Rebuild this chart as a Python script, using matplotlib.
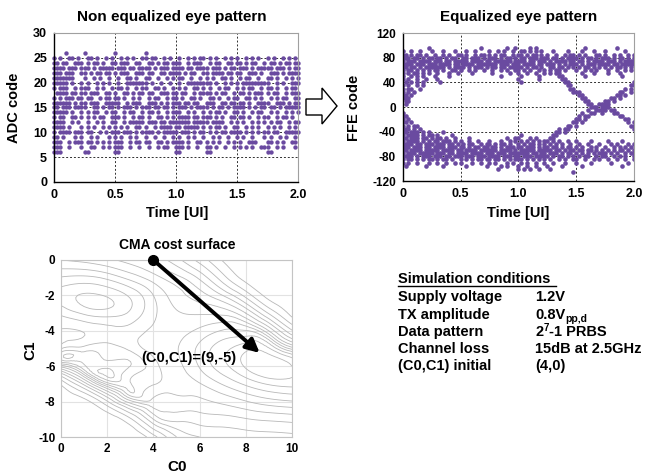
import numpy as np
import matplotlib
matplotlib.use('Agg')
import matplotlib.pyplot as plt
import matplotlib.tri as mtri
from matplotlib.patches import Polygon
from matplotlib.lines import Line2D

plt.rcParams['font.family'] = ['Liberation Sans', 'DejaVu Sans']
plt.rcParams['axes.unicode_minus'] = False

# ---------------- data ----------------
time_step = 0.025  # UI between sample columns

# Non equalized eye: ADC code levels and occupied sample columns ('#')
adc_levels = [26, 25, 24, 23, 22, 21, 20, 19, 18, 17, 16,
              15, 14, 13, 12, 11, 10, 9, 8, 7, 6]
adc_rows = [
    "....#..... #......... #......... #......... .......... .......... .......... .......... .",
    "#.#..##.#. .##.#..#.# ..#.#.#..# #.##..#.#. .#..#.#.## .#.#..#.#. #..#.#.#.. #.#..#.#.# .",
    "##.##..### .#.##.#..# #.###..##. .##.#.##.# ##..#.###. .#.##..##. ##.#.##..# .##.#.##.# #",
    "####.###.# ##.#.##### .###.##.## ##.#.###.# ###.##.### #.###.#.## .###.#.### ##.###.#.# #",
    "###.###..# #.#.##.##. #.###..### .##..##.## ##.#.##..# #.####.##. ##..###.#. .###.#.### #",
    "#######... #..#.#..#. .#..##.#.. ##..#..#.# .##..#..#. #.#..##.#. .#.##..#.. ##.#..#.#. #",
    "#####.#..# .#..#.#.#. .#..###### #.#..#..#. .#..###### ##.#..#.#. #.######## #..#.#..## #",
    "#.###..#.# ##..#.#..# .##.#..#.# #..##.#..# .#.#..##.# .#..#.##.. #.#.##..#. ##.#..#.## .",
    ".####.##.# #.###..##. #..##.#.## .##..###.# #.##..#.## ##.#.##..# .##.#.###. #.##..#.## #",
    "#.#.###.## .##..#.##. ##.#..#.#. .#.##..#.# #.#..##.#. .##.#..#.# #..##.#.#. .#.#.##..# #",
    "######.#.# #.###..### ##..#.###. .###.#.#.# ##.##.##.. ###..##.## .##.#..### #..###.#.# #",
    "##.###.### #..##.#.## .#.###.#.# ##.##.##.# .###.#.### #.#.##.#.# ###.#.#.## .##.#.#### #",
    "#####.#..# .#.##..#.# #..#.##..# .##.#..#.# ##..#.#..# .#.##.#..# #.#..#.##. .#.#..#.#. #",
    "#.##..##.# .#.#.##..# ##.#..#.## .#..##.#.# .####.##.# ##.#.#..## .##.#..#.# #..#.##.#. .",
    "####..#.#. .#..#.#..# #..#.##### .###.##.## #####.#### #.####..#. #.#..#.#.# .#.##..#.# #",
    "####.#...# .#.#..#.#. #.#.#..##. #..#.####. ##.#####.# .#.##.#..# #..#.#.#.. #.#.#..#.# .",
    "#.####.### .##..#.#.# ##.###.#.# ###.#.#### #.###.#.## .#.#.##.## ##.#.#.#.# #.##..#### #",
    "##.#...#.# ..#.#...#. #.#..#.#.. #..#..#..# .#..#.#..# ..#.#..#.. #.#..#...# .#..#.#..# .",
    "###..#.### .##.#.#.#. ###..#.##. ##..##.#.# ###.#..##. #.#.#..#.# .#..###... ##.#.#..## .",
    "###..#...# ..##..#.#. ###..#..#. .#..#.##.. ###.#..#.. ##.#..#..# .#.#.#..## #..#.#...# .",
    "###....... ##........ ##........ .......... ##........ ##........ .......... ##........ .",
]

# Equalized eye: FFE code levels and occupied sample columns ('#')
ffe_levels = [95, 90, 85, 80, 75, 70, 65, 60, 55, 50, 45, 40, 35, 30, 25, 20,
              15, 10, 5, 0, -5, -10, -15, -20, -25, -30, -35, -40, -45, -50,
              -55, -60, -65, -70, -75, -80, -85, -90, -95, -100, -105]
ffe_rows = [
    ".........# .......... .......#.. ......#..# ....#.#... .......... ...#...... ....#..... .",
    "#..#..#... #...#...#. ..#..#.... #..#.#..#. .##.#.#.#. ..#....#.. ..#...#... #......#.. .",
    "##.#.##.#. .#..#.#..# #.#..#.##. #.#.##..#. ##.#.##.#. #..#..#.## .#.#...##. #..#.#..#. #",
    "###.##.#.# #.##.#.##. .##.###.#. ###.#.##.# .##.###.## #.##.#.### #.#.##.#.# ##.#.##.#. #",
    "#.###.#### .###.##.## ###.####.# #.######.# ###.##.### .#.####.## .##.#.#### .###.#.### #",
    "####.###.# ##.####.## .####.#### ###.###.## #.####.##. ###.#.#.## #.#.###.## ##.##.#### #",
    "##.##.#.## #####.#.## ##.#.###.# .##.##.### ##.#.##.#. .##.##.#.# .#.##.#.#. #.#.##.#.# .",
    "#.##.#.#.# .##.#..##. #..#.#..#. .#..#.#..# #.#.#..#.# .#.##.#... #..#.#.#.. .#..#..#.# .",
    "#.#.##.#.# ..#...#..# ....#..... .#.....#.. #..#..#..# .#.##..... ..#...#... .#...#.... .",
    "#..#.#.#.. .#....#... .......... ....#..... .#.....#.. ....##.... ...#...... ......#... .",
    "#.#..#..#. ..#....... .......... .......... #......#.. .....##... .......... .......... .",
    ".#.#.#.#.. ...#...... .......... .......... .#........ ......##.. .......... .......... #",
    "#.#..#.#.. .......... .......... .......... .......... .......##. .......... .........# #",
    "#.##..#... .......... .......... .......... .......... ........## .......... .......#.# .",
    "#.#.#..... .......... .......... .......... .......... .........# ##........ .....##..# .",
    "##.#...... .......... .......... .......... .......... .......... .##....... ....##.#.. .",
    "###....... .......... .......... .......... .......... .......... ..##...... ..##.#.... .",
    ".##....... .......... .......... .......... .......... .......... ...##..... ##.#...... .",
    ".#........ .......... .......... .......... .......... .......... ....##..## ##........ .",
    ".......... .......... .......... .......... .......... .......... .....###.# ##........ .",
    ".......... .......... .......... .......... .......... .......... ....#..### #.##...... .",
    "#......... .......... .......... .......... .......... .......... ..#..##..# ...##..... .",
    "##........ .......... .......... .......... .......... .......... .#.##..... .....##... .",
    "#.#....... .......... .......... .......... .......... .......... ##.#...... .......##. .",
    "##.#...... .......... .......... .......... .......... .........# #.#....... ........#. #",
    "#.#.##.... .......... .......... .......... .......... .......##. #......... .........# #",
    "###.#.#... .......... .......... .......... .......... ....#.##.. .......... .......... #",
    "##.###.#.# ....#..... .......... .......... .......... ...##.#... .......... .......... .",
    "#.####.#.# #.#....#.. .......... .......... .#........ ..##...... .......... .......... .",
    "##.###.##. #.##.#..#. ...#...... ......#..# #...#.#... .##....... .......... .......... .",
    "#.####.#.# .##.###.#. #..#..#... #...#..#.# .#.#.#.#.# #.#.#..#.. #....#.... .#....#... .",
    "####.##.## #.###.##.# .#.##..#.# #.#.##.#.. #.#.##.#.# .#.#.#..#. .#..#...#. ..#.#...#. #",
    "###.###.## .####.###. ##.#.##.## .##.#.###. ##.###.#.# #.##.#.##. #.#..#.#.. #..#.#.#.# .",
    "##.####.## ###.####.# #.####.### ###.####.# .#####.### ##.##.#.## .##.##.#.# .#.#.##.#. #",
    "#.###.#### #.###.##.# ###.####.# ##.###.### ####.##.## .###.#.##. #.#.#.#.## #.#.#..#.# #",
    "####.#.### .###.##.## #.###.###. ####.###.# #.###.#### #.#.##.#.# .#.##..#.# #..#.#.#.. #",
    "#.##.#.#.# #.#.##.#.. #.#.#.##.# #.##.#.#.# ##.#.#.#.# .#..#.#..# #..#..#.#. .#..#..#.. #",
    "#.#..#...# ..#..#..#. #...#..#.. #.#...#.#. .#.#..#..# ..#...#... #....#.... ..#.....#. .",
    ".#......#. ....#..... ..#......# ....#.#... #..#..#... #....#.... ..#....... ......#... .",
    ".......... .......... .......... ...#...... #.#.#..#.. .#........ .......... .......... .",
    ".......... .......... .......... .......... .......... .........# .......... .......... .",
]

# CMA cost surface (estimated values on a coarse grid)
c0_vals = [0, 1, 2, 3, 4, 5, 6, 7, 8, 9, 10]
c1_vals = [0, -1, -2, -3, -4, -5, -6, -7, -8, -9, -10]
cost_grid = [
    [6.0, 6.5, 7.5, 9.0, 12.0, 18.0, 30.0, 48.0, 60.0, 60.0, 60.0],
    [3.2, 3.0, 3.6, 5.0, 7.0, 10.0, 16.0, 32.0, 52.0, 60.0, 60.0],
    [1.8, 1.2, 1.4, 2.4, 4.5, 7.0, 9.5, 15.0, 30.0, 52.0, 60.0],
    [3.0, 2.0, 1.7, 2.4, 4.2, 5.8, 6.2, 6.5, 11.0, 28.0, 52.0],
    [4.6, 4.4, 3.8, 3.8, 4.8, 5.0, 4.2, 3.2, 3.2, 8.0, 26.0],
    [3.4, 2.8, 2.8, 3.6, 5.0, 4.6, 3.0, 1.6, 0.8, 1.2, 5.0],
    [7.0, 2.4, 1.6, 2.2, 4.0, 4.8, 3.2, 1.6, 0.5, 0.0, 0.6],
    [45.0, 18.0, 4.0, 3.2, 4.4, 5.2, 4.6, 3.2, 2.0, 1.2, 1.0],
    [60.0, 52.0, 28.0, 9.0, 6.5, 6.6, 6.4, 5.6, 4.6, 3.8, 3.4],
    [60.0, 60.0, 56.0, 38.0, 15.0, 10.0, 9.5, 9.0, 8.2, 7.6, 7.2],
    [60.0, 60.0, 60.0, 60.0, 40.0, 20.0, 15.0, 14.0, 13.0, 12.5, 12.0],
]
cost_levels = [0.6, 1.3, 2.2, 3.3, 4.5, 6, 8, 11, 15, 20, 27, 36, 47]
c0_start = [4, 0]
c0_final = [8.6, -5.25]

time_ticks = [0, 0.5, 1.0, 1.5, 2.0]
time_labels = ['0', '0.5', '1.0', '1.5', '2.0']
adc_ticks = [0, 5, 10, 15, 20, 25, 30]
ffe_ticks = [-120, -80, -40, 0, 40, 80, 120]
c0_ticks = [0, 2, 4, 6, 8, 10]
c1_ticks = [0, -2, -4, -6, -8, -10]

sim_names = ["Supply voltage", "TX amplitude", "Data pattern", "Channel loss", "(C0,C1) initial"]
sim_values = ["1.2V", "0.8V", "2", "15dB at 2.5GHz", "(4,0)"]

# ---------------- drawing ----------------
W, H = 649, 474
fig = plt.figure(figsize=(W / 100, H / 100), dpi=100)


def rect(x0, y0, x1, y1):
    return [x0 / W, 1 - y1 / H, (x1 - x0) / W, (y1 - y0) / H]


def pts(rows, levels):
    xs, ys = [], []
    for lev, row in zip(levels, rows):
        cells = row.replace(' ', '')
        for i, ch in enumerate(cells):
            if ch == '#':
                xs.append(i * time_step)
                ys.append(lev)
    return xs, ys


purple = '#6a4aa0'


def style_eye(ax, yticks):
    ax.set_xlim(0, 2.0)
    ax.set_ylim(yticks[0], yticks[-1])
    ax.set_xticks(time_ticks)
    ax.set_xticklabels(time_labels)
    ax.set_yticks(yticks)
    for v in time_ticks[1:-1]:
        ax.axvline(v, color='#303030', lw=0.7, ls=(0, (2, 2)), zorder=0.5)
    for v in yticks[1:-1]:
        ax.axhline(v, color='#303030', lw=0.7, ls=(0, (2, 2)), zorder=0.5)
    for s in ['left', 'bottom']:
        ax.spines[s].set_color('black')
        ax.spines[s].set_linewidth(1.0)
    for s in ['top', 'right']:
        ax.spines[s].set_color('#a0a0a0')
        ax.spines[s].set_linewidth(0.8)
    ax.tick_params(length=0, labelsize=9, pad=5)
    for lab in ax.get_xticklabels() + ax.get_yticklabels():
        lab.set_fontweight('bold')


# Non equalized eye
ax1 = fig.add_axes(rect(54, 33, 298, 182))
x1, y1 = pts(adc_rows, adc_levels)
ax1.scatter(x1, y1, s=10, color=purple, linewidths=0, zorder=2, clip_on=False)
style_eye(ax1, adc_ticks)
fig.text(172 / W, 1 - 17 / H, "Non equalized eye pattern", ha='center', va='center',
         fontsize=11, fontweight='bold')
fig.text(14 / W, 1 - 108 / H, "ADC code", ha='center', va='center', rotation=90,
         fontsize=10.5, fontweight='bold')
fig.text(177 / W, 1 - 213 / H, "Time [UI]", ha='center', va='center',
         fontsize=10.5, fontweight='bold')

# Equalized eye
ax2 = fig.add_axes(rect(402.7, 33, 634, 181))
x2, y2 = pts(ffe_rows, ffe_levels)
ax2.scatter(x2, y2, s=11, color=purple, linewidths=0, zorder=2)
style_eye(ax2, ffe_ticks)
ax2.tick_params(axis='y', labelsize=8.5)
fig.text(519 / W, 1 - 17 / H, "Equalized eye pattern", ha='center', va='center',
         fontsize=11, fontweight='bold')
fig.text(354 / W, 1 - 108 / H, "FFE code", ha='center', va='center', rotation=90,
         fontsize=10.5, fontweight='bold')
fig.text(518 / W, 1 - 213 / H, "Time [UI]", ha='center', va='center',
         fontsize=10.5, fontweight='bold')

# hollow arrow between the eyes
arrow_px = [(306, 99), (322, 99), (322, 88), (337, 106), (322, 124), (322, 115), (306, 115)]
fig.patches.append(Polygon([(x / W, 1 - y / H) for x, y in arrow_px], closed=True,
                           facecolor='white', edgecolor='black', lw=1.0,
                           transform=fig.transFigure, figure=fig))

# CMA cost surface
ax3 = fig.add_axes(rect(61, 260, 292, 437))
C0g, C1g = np.meshgrid(np.array(c0_vals, float), np.array(c1_vals, float))
Z = np.array(cost_grid)
tri = mtri.Triangulation(C0g.ravel(), C1g.ravel())
interp = mtri.CubicTriInterpolator(tri, Z.ravel(), kind='min_E')
refiner = mtri.UniformTriRefiner(tri)
tri_r, z_r = refiner.refine_field(Z.ravel(), triinterpolator=interp, subdiv=3)
ax3.tricontour(tri_r, z_r, levels=cost_levels, colors='#b8b8b8', linewidths=0.6, zorder=1)
ax3.set_xlim(0, 10)
ax3.set_ylim(-10, 0)
ax3.set_xticks(c0_ticks)
ax3.set_yticks(c1_ticks)
ax3.grid(True, color='#e2e2e2', lw=0.8)
ax3.set_axisbelow(True)
for s in ax3.spines.values():
    s.set_color('#c4c4c4')
    s.set_linewidth(0.8)
ax3.tick_params(length=0, labelsize=8.5, pad=4)
for lab in ax3.get_xticklabels() + ax3.get_yticklabels():
    lab.set_fontweight('bold')
ax3.annotate('', xy=c0_final, xytext=c0_start,
             arrowprops=dict(arrowstyle='-|>', lw=2.8, color='black',
                             mutation_scale=20, shrinkA=0, shrinkB=0), zorder=3)
ax3.plot([c0_start[0]], [c0_start[1]], 'o', color='black', markersize=7, clip_on=False, zorder=4)
ax3.text(5.55, -5.55, "(C0,C1)=(9,-5)", ha='center', va='center', fontsize=10.5,
         fontweight='bold', zorder=5)
fig.text(177 / W, 1 - 245 / H, "CMA cost surface", ha='center', va='center',
         fontsize=10, fontweight='bold')
fig.text(30 / W, 1 - 350 / H, "C1", ha='center', va='center', rotation=90,
         fontsize=11, fontweight='bold')
fig.text(177 / W, 1 - 467 / H, "C0", ha='center', va='center',
         fontsize=11, fontweight='bold')

# Simulation conditions
fs = 10.5
fig.text(398 / W, 1 - 282.7 / H, "Simulation conditions", ha='left', va='baseline',
         fontsize=fs, fontweight='bold')
fig.lines.append(Line2D([398 / W, 556 / W], [1 - 285.5 / H, 1 - 285.5 / H], color='black',
                        lw=1.0, transform=fig.transFigure, figure=fig))
row_y = [301.3, 318.7, 336.0, 352.7, 370.0]
value_texts = []
for yy, name, val in zip(row_y, sim_names, sim_values):
    fig.text(398 / W, 1 - yy / H, name, ha='left', va='baseline', fontsize=fs, fontweight='bold')
    value_texts.append(fig.text(535 / W, 1 - yy / H, val, ha='left', va='baseline',
                                fontsize=fs, fontweight='bold'))

# subscript "pp,d" after 0.8V, superscript "7" after 2, then "-1 PRBS"
fig.canvas.draw()
rend = fig.canvas.get_renderer()
bb1 = value_texts[1].get_window_extent(rend)
fig.text((bb1.x1 + 0.5) / W, 1 - (row_y[1] + 3.0) / H, "pp,d", ha='left', va='baseline',
         fontsize=7.5, fontweight='bold')
bb2 = value_texts[2].get_window_extent(rend)
sup = fig.text((bb2.x1 + 0.5) / W, 1 - (row_y[2] - 5.0) / H, "7", ha='left', va='baseline',
               fontsize=7, fontweight='bold')
fig.canvas.draw()
bb3 = sup.get_window_extent(rend)
fig.text((bb3.x1 + 0.3) / W, 1 - row_y[2] / H, "-1 PRBS", ha='left', va='baseline',
         fontsize=fs, fontweight='bold')

fig.savefig('out.png', dpi=100)
